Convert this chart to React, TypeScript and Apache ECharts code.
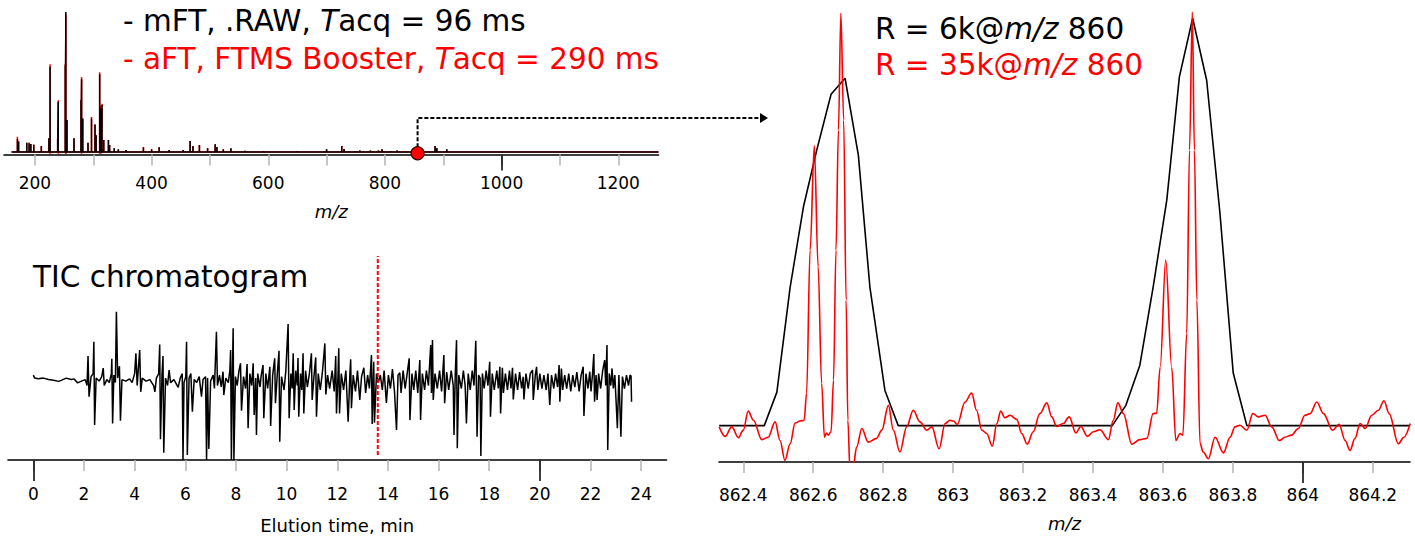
import React, { useEffect, useRef } from "react";
import * as echarts from "echarts";

const FONT = "DejaVu Sans, Verdana, sans-serif";

// ---------- Top-left: full mass spectrum (m/z, relative intensity %) ----------
const specStartMz = 160;
const specEndMz = 1269;
const specMz = [170, 172, 186, 190, 193, 198, 211, 224, 226, 239, 240, 252, 253, 255, 267, 279, 280, 282, 291, 297, 303, 305, 311, 313, 315, 318, 326, 328, 336, 343, 356, 386, 400, 413, 430, 454, 466, 471, 482, 496, 509, 512, 523, 536, 560, 592, 650, 700, 726, 730, 749, 757, 775, 789, 795, 810, 821, 886, 889, 906];
const specBlack = [9.3, 7.3, 6.6, 6.2, 5.7, 5.0, 4.3, 9.8, 60.8, 9.5, 35.9, 62, 100, 22.8, 9.8, 37, 52, 24, 6.6, 24, 19.7, 12, 55.6, 31.1, 33.5, 8.6, 8.6, 5, 2.6, 1.9, 1.4, 3.4, 1.9, 3.4, 1.4, 1.4, 7.8, 4.3, 5.0, 2.6, 5.5, 3.6, 1.9, 2.6, 0.9, 0.7, 0.7, 1.9, 4.3, 2.1, 0.7, 1.0, 1.0, 1.0, 1.9, 0.7, 1.0, 4.3, 2.8, 1.9];
const specRed = [10.9, 7.8, 6.6, 6.8, 5.7, 5.6, 4.3, 9.8, 62.7, 9.5, 37, 63, 98.5, 22.8, 9.8, 37, 53.5, 24, 6.6, 25, 19.7, 12, 57, 33, 34.5, 8.6, 8.6, 5, 2.6, 1.9, 1.4, 3.4, 1.9, 3.4, 1.4, 1.4, 7.8, 4.3, 5.0, 2.6, 5.5, 3.6, 1.9, 2.6, 0.9, 0.7, 0.7, 1.9, 4.3, 2.1, 0.7, 1.0, 1.0, 1.0, 1.9, 0.7, 1.0, 4.3, 2.8, 1.9];
const specRedDipMz = [226, 240, 253, 280, 311, 313];
const specRedDipDepth = [-1.3, -1.2, -1.4, -1.2, -1.3, -1.2];
const zoomMarker: [number, number] = [856, -0.9];
const specTickValues = [200, 300, 400, 500, 600, 700, 800, 900, 1000, 1100, 1200];
const specLabelValues = [200, 400, 600, 800, 1000, 1200];
const specMajorTicks = [1000];

// ---------- Bottom-left: TIC chromatogram (time min, relative intensity) ----------
const ticTrace: [number, number][] = [
  [0.0, 57], [0.05, 55], [0.2, 54.5], [0.4, 55], [0.6, 54], [0.8, 53.5], [1.0, 52.8], [1.1, 53.5], [1.3, 55], [1.5, 54], [1.6, 54.5], [1.75, 51.8], [1.9, 53], [2.05, 54],
  [2.12, 50], [2.16, 69.8], [2.2, 42.5], [2.28, 56], [2.36, 58], [2.39, 79.4], [2.42, 23.5], [2.48, 55], [2.6, 53], [2.7, 56], [2.76, 61.7], [2.8, 50], [2.9, 54],
  [3.0, 52], [3.08, 58], [3.1, 68], [3.13, 24.6], [3.18, 57], [3.24, 52], [3.28, 99.5], [3.33, 55], [3.4, 63], [3.44, 26.4], [3.5, 54], [3.65, 53], [3.8, 54.5], [3.9, 52],
  [4.0, 58], [4.05, 71.6], [4.1, 50], [4.2, 73.8], [4.24, 45.8], [4.3, 55], [4.45, 53], [4.6, 54], [4.75, 50], [4.8, 45.8], [4.86, 55], [4.95, 58], [4.99, 77.6],
  [5.02, 13.9], [5.08, 57], [5.12, 69.8], [5.15, 4.9], [5.22, 55], [5.3, 50], [5.36, 60.4], [5.42, 52], [5.55, 54], [5.65, 51], [5.72, 48.8], [5.8, 55], [5.88, 58], [5.91, 0],
  [5.95, 52], [6.02, 56], [6.05, 79.4], [6.08, 3.4], [6.15, 55], [6.22, 58], [6.28, 32.4], [6.35, 54], [6.45, 52], [6.55, 56], [6.64, 42.5], [6.7, 54], [6.8, 56], [6.84, 0],
  [6.88, 55], [6.93, 7.4], [7.0, 53], [7.1, 57], [7.15, 48], [7.23, 86.1], [7.27, 50], [7.35, 57], [7.42, 49], [7.49, 59.3], [7.52, 43.6], [7.6, 55], [7.7, 52], [7.76, 60],
  [7.79, 73.8], [7.82, 0], [7.86, 58], [7.89, 88.4], [7.92, 0], [7.98, 56], [8.05, 50], [8.12, 60], [8.18, 64.9], [8.22, 33.1], [8.3, 56], [8.38, 48], [8.44, 64.4],
  [8.48, 21.3], [8.55, 58], [8.62, 50], [8.68, 64.9], [8.72, 30.2], [8.78, 55], [8.81, 16.8], [8.86, 58], [8.95, 49], [9.0, 57], [9.07, 63.8], [9.1, 28], [9.18, 58],
  [9.25, 48], [9.34, 62.6], [9.37, 22.8], [9.45, 57], [9.53, 68.3], [9.56, 38.1], [9.63, 57], [9.7, 73.4], [9.73, 12.3], [9.8, 56], [9.9, 47], [9.97, 60], [10.06, 91.3],
  [10.1, 28], [10.17, 58], [10.22, 48], [10.26, 71.6], [10.3, 33.6], [10.36, 60], [10.42, 50], [10.45, 68.5], [10.48, 29.1], [10.55, 58], [10.6, 47], [10.65, 71.6],
  [10.68, 31.3], [10.75, 60], [10.82, 49], [10.9, 58], [10.98, 71.6], [11.01, 40.3], [11.08, 56], [11.15, 68.9], [11.18, 29.1], [11.25, 58], [11.33, 47], [11.42, 60],
  [11.51, 78.3], [11.55, 44], [11.62, 57], [11.7, 48], [11.8, 60], [11.88, 46], [11.94, 69.8], [11.97, 31.3], [12.03, 57], [12.06, 75], [12.09, 31.3], [12.16, 58],
  [12.25, 47], [12.34, 60], [12.43, 25.7], [12.5, 58], [12.53, 67.6], [12.56, 34.7], [12.63, 57], [12.72, 46], [12.8, 60], [12.89, 40.3], [12.96, 56], [13.05, 62],
  [13.12, 45], [13.2, 57], [13.27, 48], [13.35, 70.5], [13.38, 24.2], [13.44, 66], [13.47, 25.1], [13.55, 58], [13.62, 52], [13.7, 57], [13.78, 47], [13.85, 60],
  [13.94, 38.3], [14.02, 57], [14.1, 48], [14.18, 61], [14.26, 46], [14.34, 20.1], [14.4, 57], [14.47, 58.6], [14.52, 45], [14.6, 60], [14.68, 48], [14.76, 58],
  [14.84, 68.3], [14.87, 26.8], [14.95, 58], [15.02, 47], [15.1, 60], [15.18, 45], [15.26, 67.1], [15.29, 26.8], [15.36, 58], [15.45, 47], [15.52, 60], [15.6, 50],
  [15.69, 77.2], [15.72, 45], [15.76, 80.5], [15.79, 40.3], [15.86, 58], [15.95, 48], [16.04, 60], [16.12, 46], [16.21, 70.5], [16.24, 38.1], [16.32, 59], [16.4, 47],
  [16.5, 60], [16.58, 50], [16.61, 16.8], [16.66, 58], [16.71, 80.5], [16.74, 7.9], [16.8, 57], [16.9, 48], [16.98, 60], [17.05, 50], [17.1, 24.6], [17.17, 58],
  [17.25, 47], [17.33, 60], [17.4, 50], [17.47, 80.1], [17.52, 15.6], [17.58, 57], [17.64, 55], [17.67, 2.7], [17.73, 58], [17.8, 48], [17.88, 60], [17.95, 50],
  [18.02, 66], [18.05, 29.1], [18.12, 58], [18.2, 47], [18.3, 60], [18.36, 48], [18.42, 62.6], [18.45, 31.3], [18.52, 61.9], [18.56, 45], [18.64, 58], [18.72, 47],
  [18.8, 60], [18.86, 48], [18.92, 61.9], [18.95, 40.7], [19.04, 58], [19.12, 47], [19.2, 59], [19.28, 48], [19.34, 55.9], [19.37, 40.7], [19.45, 58], [19.54, 48],
  [19.62, 58], [19.71, 60.4], [19.74, 40.3], [19.82, 57], [19.87, 62.6], [19.92, 47], [20.0, 58], [20.08, 48], [20.16, 57], [20.25, 47], [20.32, 58], [20.39, 36.9],
  [20.46, 57], [20.55, 48], [20.62, 58], [20.7, 49], [20.76, 63.8], [20.79, 39.1], [20.85, 61.5], [20.9, 47], [20.98, 57], [21.06, 48], [21.14, 58], [21.22, 46],
  [21.3, 57], [21.38, 49], [21.46, 59], [21.55, 46], [21.63, 57], [21.71, 62.6], [21.74, 29.5], [21.82, 58], [21.9, 48], [21.97, 59.3], [22.02, 46], [22.08, 58],
  [22.13, 71.1], [22.16, 39.1], [22.22, 57], [22.26, 40.3], [22.32, 58], [22.4, 48], [22.48, 60], [22.56, 67.1], [22.6, 50], [22.65, 77.2], [22.68, 6.7], [22.74, 58],
  [22.8, 50], [22.85, 61.5], [22.9, 48], [22.96, 57], [23.06, 21.3], [23.12, 57], [23.2, 15.6], [23.26, 56], [23.34, 48], [23.42, 57], [23.5, 50], [23.56, 57],
  [23.6, 56.4], [23.62, 39.1],
];
const ticMarkerTime = 13.6;
const ticMarkerSpan = [3.4, 137];
const ticTickValues = [0, 2, 4, 6, 8, 10, 12, 14, 16, 18, 20, 22, 24];
const ticMajorTicks = [0, 20];

// ---------- Right: zoomed spectrum ----------
const lowResMz = [862.331, 862.46, 862.496, 862.534, 862.572, 862.61, 862.651, 862.691, 862.729, 862.762, 862.805, 862.843, 863.455, 863.494, 863.534, 863.572, 863.611, 863.647, 863.685, 863.725, 863.763, 863.801, 863.84, 864.307];
const lowResInt = [0, 0, 8.1, 33.5, 52.9, 66.6, 80.1, 84.0, 65.4, 33.5, 8.5, 0, 0, 4.9, 14.6, 33.5, 54.5, 84.3, 98.5, 83.5, 51.4, 12.7, 0, 0];
const highResMz = [
  862.331, 862.348, 862.367, 862.386, 862.4, 862.414, 862.429, 862.453, 862.471, 862.491,
  862.505, 862.519, 862.534, 862.548, 862.562, 862.574, 862.581, 862.591, 862.603, 862.614,
  862.624, 862.632, 862.638, 862.643, 862.651, 862.658, 862.665, 862.672, 862.679, 862.687,
  862.694, 862.699, 862.705, 862.715, 862.724, 862.739, 862.757, 862.781, 862.796, 862.815,
  862.829, 862.848, 862.867, 862.886, 862.905, 862.925, 862.939, 862.96, 862.977, 862.991,
  863.001, 863.012, 863.034, 863.053, 863.067, 863.082, 863.096, 863.112, 863.125, 863.136,
  863.148, 863.163, 863.182, 863.196, 863.212, 863.229, 863.248, 863.268, 863.282, 863.296,
  863.315, 863.332, 863.351, 863.365, 863.384, 863.401, 863.42, 863.444, 863.458, 863.471,
  863.487, 863.511, 863.534, 863.554, 863.572, 863.582, 863.592, 863.608, 863.625, 863.637,
  863.649, 863.657, 863.668, 863.676, 863.684, 863.69, 863.697, 863.706, 863.715, 863.73,
  863.749, 863.773, 863.792, 863.806, 863.82, 863.84, 863.857, 863.873, 863.892, 863.911,
  863.933, 863.949, 863.968, 863.987, 864.006, 864.021, 864.04, 864.059, 864.085, 864.104,
  864.121, 864.135, 864.149, 864.164, 864.178, 864.197, 864.216, 864.232, 864.247, 864.273,
  864.289, 864.307,
];
const highResInt = [
  -0.3, -2.6, -0.3, -2.9, -1.1, 3.5, 1.3, -3.4, -2.8, 0.9,
  -3.6, -8.4, -4.4, 0.6, 1.1, 1.3, 7.8, 42.4, 67.7, 38.4,
  10.2, -2.8, -1.8, -2.3, -1.5, 11.0, 42.4, 71.4, 99.7, 73.9,
  30.3, 1.3, -10.8, -9.6, -5.2, -0.7, -4.0, -3.1, -1.1, 4.9,
  -1.1, -6.4, -0.3, 3.7, 0.9, -1.1, -0.3, -5.6, 0.5, 1.3,
  1.1, 0.3, 5.7, 7.9, 3.7, -1.1, -1.9, -5.0, 0.5, 3.5,
  1.9, 2.5, 1.5, -1.9, -4.5, -1.5, 2.9, 5.5, 2.1, -0.2,
  0.5, 2.1, -1.8, -0.2, -2.6, -1.5, -1.0, -3.4, 1.3, 5.5,
  2.9, -4.5, -3.4, -3.1, 2.9, 3.0, 14.1, 40.0, 14.1, -3.6,
  -1.9, -2.3, 22.3, 66.6, 100, 66.6, 30.3, -4.3, -6.4, -8.0,
  -2.8, -6.6, -2.8, -0.3, 0.1, -1.1, 2.9, 2.1, 2.5, -0.3,
  -3.6, -2.8, -2.3, -0.7, 2.5, 2.9, 5.7, 2.9, -1.1, 0.3,
  -3.6, -6.0, -3.1, 0.5, -0.7, 2.5, 3.7, 6.0, 2.9, -4.4,
  -2.8, 0.5,
];
const zoomTickValues = [862.4, 862.6, 862.8, 863.0, 863.2, 863.4, 863.6, 863.8, 864.0, 864.2];
const zoomMajorTicks = [864];

function buildSticks(heights: number[], withDips: boolean): [number, number][] {
  const out: [number, number][] = [[specStartMz, 0]];
  specMz.forEach((m, i) => {
    out.push([m, 0], [m, heights[i]]);
    const d = withDips ? specRedDipMz.indexOf(m) : -1;
    if (d >= 0) out.push([m, specRedDipDepth[d]]);
    out.push([m, 0]);
  });
  out.push([specEndMz, 0]);
  return out;
}

const labelStyle = { fontSize: 17, color: "#000", fontFamily: FONT };
const nameStyle = { fontSize: 18, color: "#000", fontFamily: FONT };

function mainAxis(grid: number, min: number, max: number, ticks: number[], labels: number[], name: string, nameGap: number, margin: number, italic: boolean, fmt?: (v: number) => string) {
  return {
    type: "value", gridIndex: grid, position: "bottom", min, max,
    axisLine: { show: true, onZero: false, lineStyle: { color: "#000", width: 1.6 } },
    axisTick: { show: true, customValues: ticks, length: 11, lineStyle: { color: "#b4b4b4", width: 1.5 } },
    axisLabel: { show: true, customValues: labels, margin, ...labelStyle, formatter: fmt || ((v: number) => String(v)) },
    splitLine: { show: false },
    name, nameLocation: "middle", nameGap,
    nameTextStyle: { ...nameStyle, fontStyle: italic ? "italic" : "normal" },
  };
}
function majorAxis(grid: number, min: number, max: number, ticks: number[], len: number) {
  return {
    type: "value", gridIndex: grid, position: "bottom", min, max,
    axisLine: { show: false, onZero: false },
    axisTick: { show: true, customValues: ticks, length: len, lineStyle: { color: "#000", width: 1.5 } },
    axisLabel: { show: false },
    splitLine: { show: false },
  };
}

export default function App() {
  const ref = useRef<HTMLDivElement>(null);
  useEffect(() => {
    if (!ref.current) return;
    const chart = echarts.init(ref.current, null, { renderer: "svg" });
    const zoomMin = 862.3305, zoomMax = 864.3065;
    const option: any = {
      animation: false,
      backgroundColor: "#fff",
      textStyle: { fontFamily: FONT },
      grid: [
        { left: 4, right: 756.5, top: 12, bottom: 384.5, outerBoundsMode: "none" },
        { left: 8, right: 748.5, top: 256, bottom: 79, outerBoundsMode: "none" },
        { left: 719, right: 5, top: 12, bottom: 77, outerBoundsMode: "none" },
      ],
      xAxis: [
        mainAxis(0, 147, 1269, specTickValues, specLabelValues, "m/z", 48, 20, true),
        majorAxis(0, 147, 1269, specMajorTicks, 16),
        mainAxis(1, -1, 25, ticTickValues, ticTickValues, "Elution time, min", 56, 25, false),
        majorAxis(1, -1, 25, ticMajorTicks, 21),
        mainAxis(2, zoomMin, zoomMax, zoomTickValues, zoomTickValues, "m/z", 52, 24, true, (v: number) => String(Math.round(v * 10) / 10)),
        majorAxis(2, zoomMin, zoomMax, zoomMajorTicks, 21),
      ],
      yAxis: [
        { type: "value", gridIndex: 0, min: -1.8, max: 100, show: false },
        { type: "value", gridIndex: 1, min: 0, max: 137, show: false },
        { type: "value", gridIndex: 2, min: -8.8, max: 100, show: false },
      ],
      series: [
        { type: "line", xAxisIndex: 0, yAxisIndex: 0, data: buildSticks(specRed, true), showSymbol: false, lineStyle: { color: "#ff0000", width: 1.5 }, z: 2 },
        { type: "line", xAxisIndex: 0, yAxisIndex: 0, data: buildSticks(specBlack, false), showSymbol: false, lineStyle: { color: "#000", width: 1.5 }, z: 3 },
        { type: "scatter", xAxisIndex: 0, yAxisIndex: 0, data: [zoomMarker], symbolSize: 13, itemStyle: { color: "#ff0000", borderColor: "#3a0000", borderWidth: 1.2, opacity: 1 }, z: 6 },
        { type: "line", xAxisIndex: 2, yAxisIndex: 1, data: ticTrace, showSymbol: false, lineStyle: { color: "#000", width: 1.5 }, z: 3 },
        { type: "line", xAxisIndex: 2, yAxisIndex: 1, data: ticMarkerSpan.map((v) => [ticMarkerTime, v]), showSymbol: false, lineStyle: { color: "#ff0000", width: 2, type: [4, 2] }, z: 4 },
        { type: "line", xAxisIndex: 4, yAxisIndex: 2, data: lowResMz.map((m, i) => [m, lowResInt[i]]), showSymbol: false, lineStyle: { color: "#000", width: 1.6 }, z: 3 },
        { type: "line", xAxisIndex: 4, yAxisIndex: 2, data: highResMz.map((m, i) => [m, highResInt[i]]), showSymbol: false, smooth: 0.35, smoothMonotone: "x", lineStyle: { color: "#ff0000", width: 1.6 }, z: 4 },
      ],
    };
    chart.setOption(option);

    const p = chart.convertToPixel({ xAxisIndex: 0, yAxisIndex: 0 } as any, zoomMarker) as number[];
    const lineY = 118;
    const tipX = 768;
    const big = (fill: string, italic = false) => ({ fontSize: 29.5, fontFamily: FONT, fill, fontStyle: italic ? "italic" : "normal" });
    chart.setOption({
      graphic: [
        { type: "polyline", z: 1, shape: { points: [[p[0], p[1]], [p[0], lineY], [tipX - 7, lineY]] }, style: { stroke: "#000", lineWidth: 2, lineDash: [4, 2], fill: null } },
        { type: "polygon", z: 1, shape: { points: [[tipX - 8, lineY - 5], [tipX, lineY], [tipX - 8, lineY + 5]] }, style: { fill: "#000" } },
        { type: "text", x: 123, y: 21, style: { text: "{n|- mFT, .RAW, }{i|T}{n|acq = 96 ms}", verticalAlign: "middle", rich: { n: big("#000"), i: big("#000", true) } } },
        { type: "text", x: 123, y: 59, style: { text: "{n|- aFT, FTMS Booster, }{i|T}{n|acq = 290 ms}", verticalAlign: "middle", rich: { n: big("#ff0000"), i: big("#ff0000", true) } } },
        { type: "text", x: 33, y: 277, style: { text: "TIC chromatogram", verticalAlign: "middle", ...big("#000") } },
        { type: "text", x: 875, y: 29, style: { text: "{n|R = 6k@}{i|m/z}{n| 860}", verticalAlign: "middle", rich: { n: big("#000"), i: big("#000", true) } } },
        { type: "text", x: 875, y: 65, style: { text: "{n|R = 35k@}{i|m/z}{n| 860}", verticalAlign: "middle", rich: { n: big("#ff0000"), i: big("#ff0000", true) } } },
      ],
    });
    return () => chart.dispose();
  }, []);
  return <div ref={ref} style={{ position: "fixed", left: 0, top: 0, width: 1415, height: 539, background: "#fff" }} />;
}
